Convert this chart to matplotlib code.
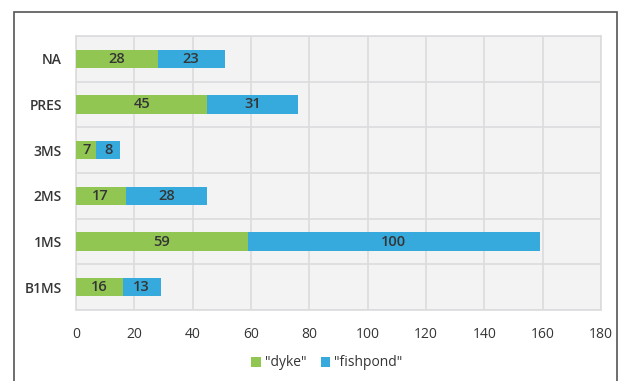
import matplotlib
matplotlib.use('Agg')
from matplotlib import pyplot as plt
from matplotlib.patches import Rectangle
import numpy as np

plt.rcParams['font.family'] = ['Open Sans', 'DejaVu Sans']

# 데이터
categories = ['B1MS', '1MS', '2MS', '3MS', 'PRES', 'NA']
dyke = [16, 59, 17, 7, 45, 28]
fishpond = [13, 100, 28, 8, 31, 23]

green = '#92c653'
blue = '#36aadd'
text_col = '#353535'

fig = plt.figure(figsize=(6.2, 3.81), dpi=100)
ax = fig.add_axes([76 / 620, 1 - 310 / 381, (601 - 76) / 620, (310 - 36) / 381])

# 바깥 테두리
fig.patches.append(Rectangle((14 / 620, -0.1), (617 - 14) / 620, 1.1 - 12 / 381,
                             transform=fig.transFigure, fill=False,
                             edgecolor='#555555', linewidth=1.2))

y = np.arange(len(categories))
b1 = ax.barh(y, dyke, height=0.4, color=green, label='"dyke"', zorder=3)
b2 = ax.barh(y, fishpond, left=dyke, height=0.4, color=blue, label='"fishpond"', zorder=3)

for bars in (b1, b2):
    ax.bar_label(bars, label_type='center', fontsize=10.5, color=text_col,
                 fontweight='semibold')

ax.set_facecolor('#f3f3f3')
ax.set_xlim(0, 180)
ax.set_ylim(-0.5, len(categories) - 0.5)
ax.set_xticks(np.arange(0, 181, 20))
ax.set_yticks(y)
ax.set_yticklabels(categories, fontweight='semibold')
ax.set_yticks(np.arange(-0.5, len(categories), 1), minor=True)
ax.grid(axis='x', color='#dcdcdf', linewidth=1.2, zorder=0)
ax.grid(axis='y', which='minor', color='#dcdcdf', linewidth=1.2, zorder=0)
ax.tick_params(axis='both', which='both', length=0, labelsize=10, labelcolor=text_col)
ax.tick_params(axis='x', pad=12)
ax.tick_params(axis='y', pad=10)
for s in ax.spines.values():
    s.set_color('#dcdcdf')
    s.set_linewidth(1.2)

ax.legend(loc='center', bbox_to_anchor=(327 / 620, 1 - 363 / 381),
          bbox_transform=fig.transFigure, ncol=2, frameon=False, fontsize=10,
          handlelength=0.7, handleheight=0.7, handletextpad=0.3, columnspacing=1.0,
          labelcolor=text_col)

fig.savefig('out.png', dpi=100)
